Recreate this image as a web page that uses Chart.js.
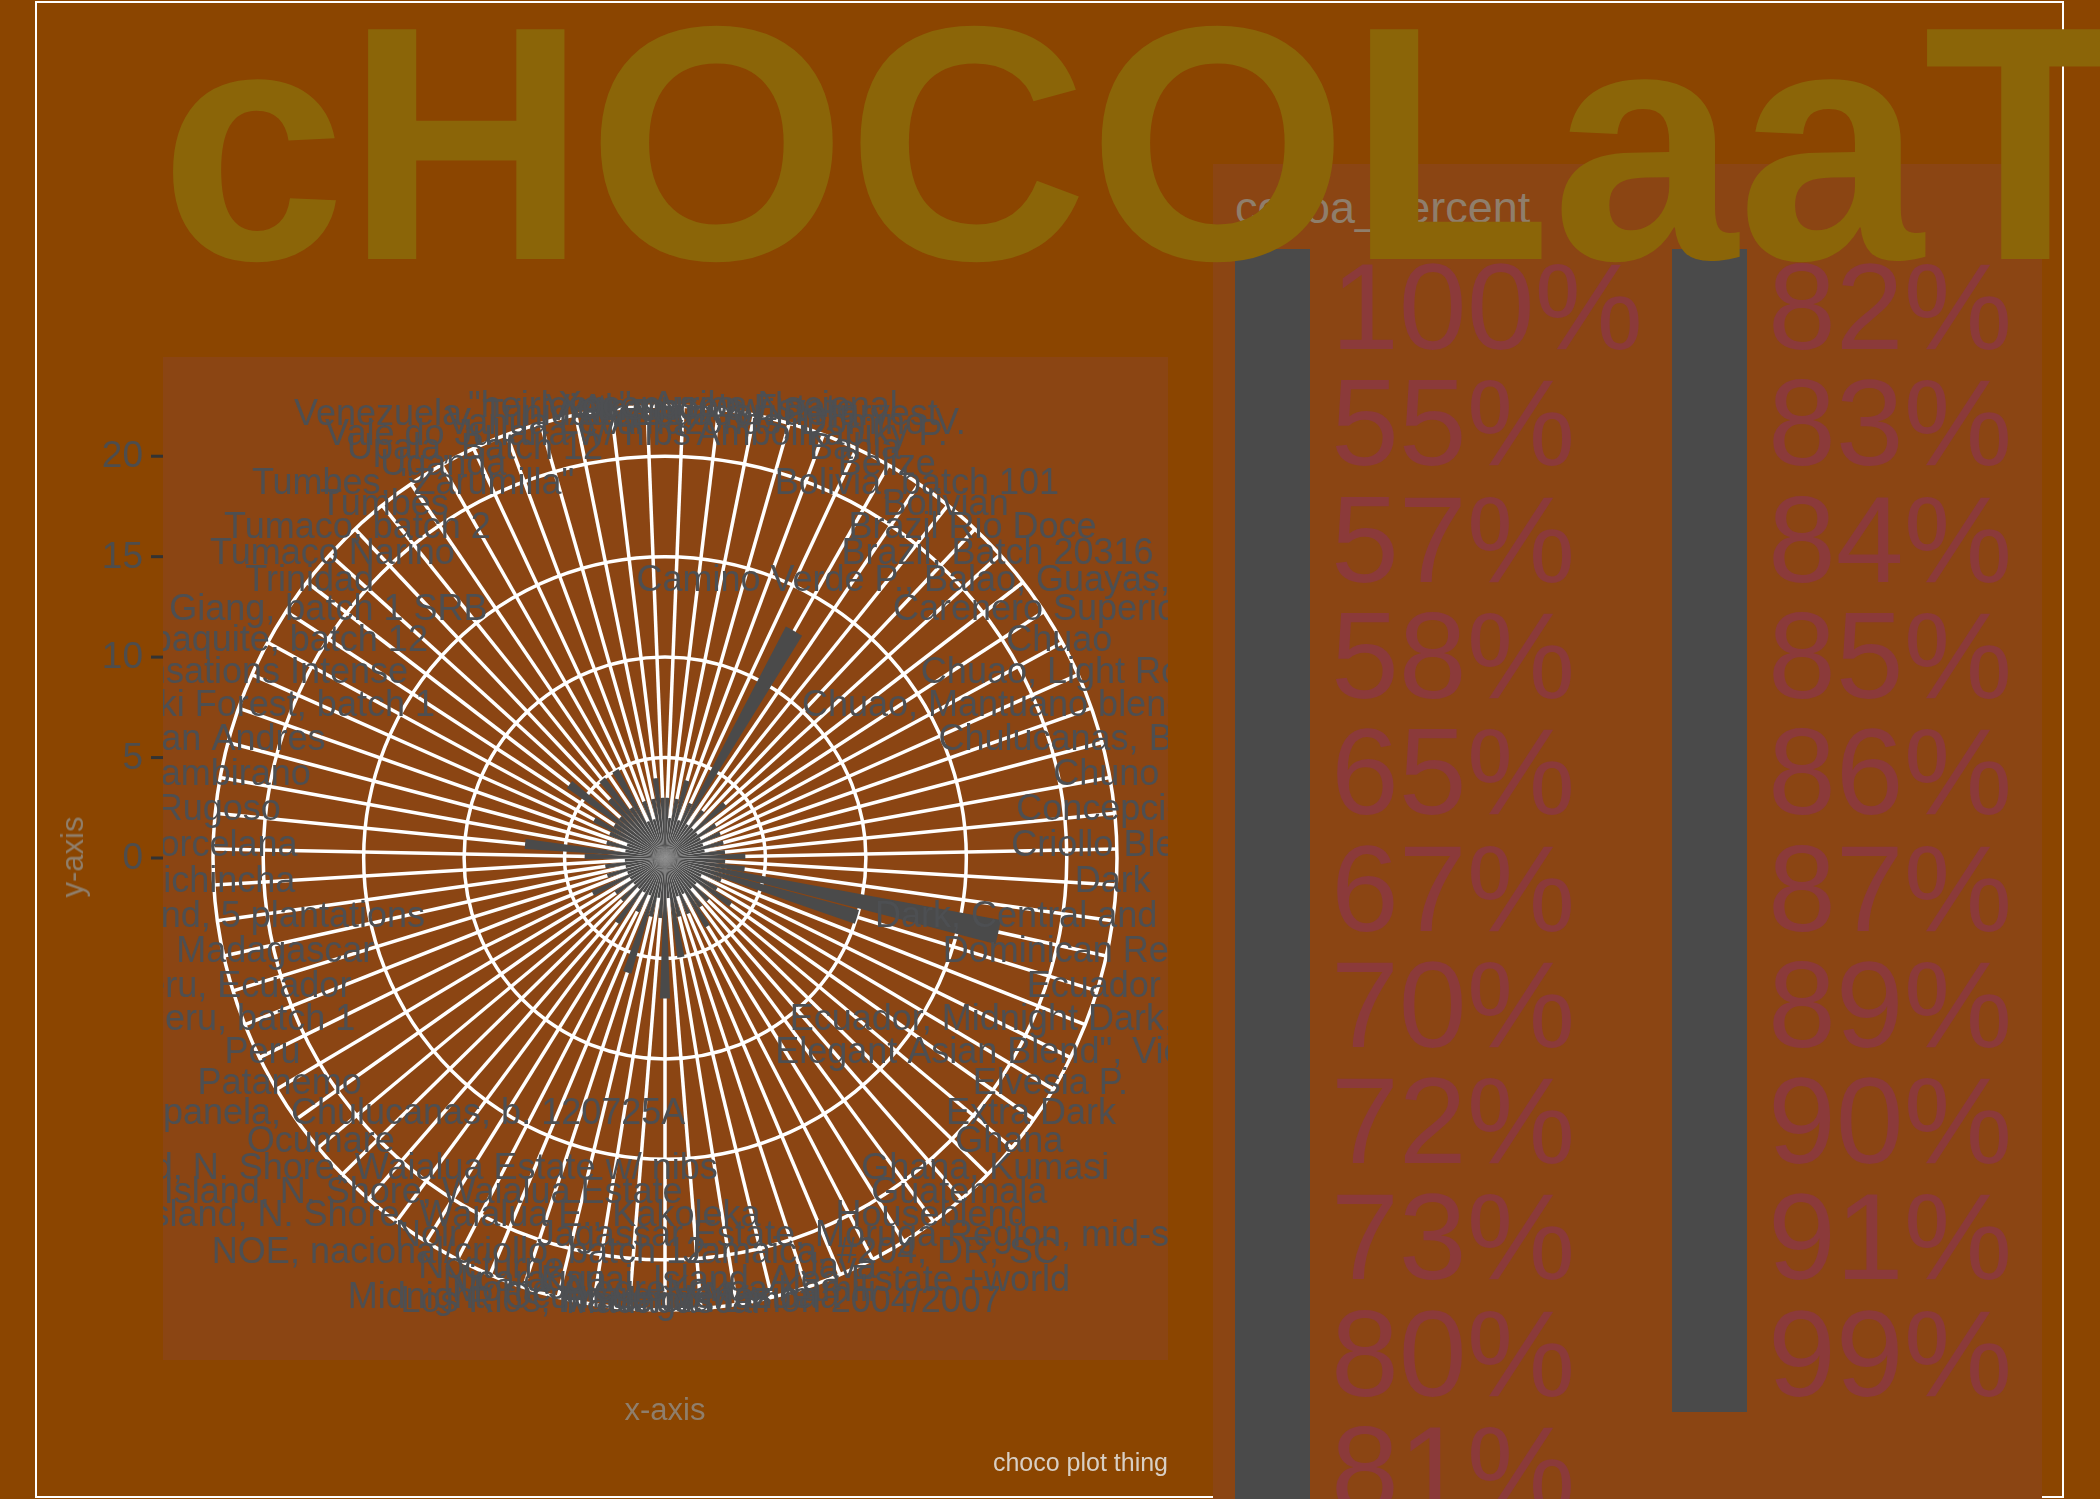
<!DOCTYPE html>
<html>
<head>
<meta charset="utf-8">
<script src="https://cdn.jsdelivr.net/npm/chart.js@4.4.1/dist/chart.umd.min.js"></script>
<style>
html,body{margin:0;padding:0;}
body{width:2100px;height:1499px;background:#8B4500;position:relative;overflow:hidden;font-family:"Liberation Sans",Arial,Helvetica,sans-serif;}
#frame{position:absolute;left:35px;top:1px;width:2029px;height:1497px;border:2px solid #fff;box-sizing:border-box;}
#c{position:absolute;left:0;top:0;}
.axt{position:absolute;color:#8F7E6B;font-size:31px;white-space:nowrap;}
#legend{position:absolute;left:1213px;top:164px;width:829px;height:1400px;background:#8B4513;}
#ltitle{position:absolute;left:22px;top:18px;font-size:45px;color:#8F7E6B;white-space:nowrap;}
.key{position:absolute;width:75px;background:#4A4A4A;}
.lab{position:absolute;font-size:122px;color:#8B3A3A;white-space:nowrap;line-height:116px;}
#title{position:absolute;left:160px;top:-23px;font-size:334px;font-weight:bold;color:#8B6508;line-height:1;white-space:nowrap;z-index:10;}
</style>
</head>
<body>
<div id="frame"></div>
<canvas id="c" width="2100" height="1499"></canvas>
<div class="axt" style="left:73px;top:857px;transform:translate(-50%,-50%) rotate(-90deg);">y-axis</div>
<div class="axt" style="left:665px;top:1410px;transform:translate(-50%,-50%);">x-axis</div>
<div class="axt" style="left:1168px;top:1462px;transform:translate(-100%,-50%);font-size:25px;color:#D8CFC4;">choco plot thing</div>
<div id="legend"><div id="ltitle">cocoa_percent</div></div>
<div id="title">cHOCOLaaT</div>
<script>
// ---------- data ----------
const origins = [
 '"heirloom", Arriba Nacional', "Akesson's Estate", "Alto Beni, Wild Harvest", "Amazonas, Domino V.",
 "Ambolikapiky P.", "Bahia", "Belize", "Bolivia, batch 101", "Bolivian", "Brazil Rio Doce",
 "Brazil, Batch 20316", "Camino Verde P., Balao, Guayas, Ecuador 2014", "Carenero Superior", "Chuao",
 "Chuao, Light Roast", "Chuao, Mantuano blend, Venezuela", "Chulucanas, Blanco", "Chuno", "Concepcion",
 "Criollo Blend", "Dark", "Dark, Central and S. America", "Dominican Republic", "Ecuador",
 "Ecuador, Midnight Dark, Esmeraldas", "Elegant Asian Blend\", Vietnam, Java", "Elvesia P.", "Extra Dark",
 "Ghana", "Ghana, Kumasi", "Guatemala", "Houseblend", "Jagassar Estate, Moruga Region, mid-season",
 "Jamaica, #204, DR, SC", "Java", "Kauai, Island, Alea Estate +world", "Kokoa Kamili", "La Masica",
 "Los Rios, Hacienda Limon 2004/2007", "Madagascar", "Maranon", "Midnight, Ocumare, Venezuela",
 "Monte Alegre", "Nicaragua", "Nocturne", "NOE, nacional/criollo, batch 12", "Noir",
 "O'ahu Island, N. Shore, Waialua E., Kakoleka", "O'ahu Island, N. Shore, Waialua Estate",
 "O'ahu Island, N. Shore, Waialua Estate w/ nibs", "Ocumare", "Organic, Piura, panela, Chulucanas, b. 120725A",
 "Patanemo", "Peru", "Peru, batch 1", "Peru, Ecuador", "Peru, Madagascar",
 "Peru, blend, 5 plantations", "Pichincha", "Porcelana", "Rugoso",
 "Sambirano", "San Andres", "Semuliki Forest, batch 1", "Sensations Intense", "Tabaquite, batch 12",
 "Tien Giang, batch 1 SRB", "Trinidad", "Tumaco Narino", "Tumaco, batch 2", "Tumbes",
 "Tumbes, \"Zarumilla\"", "Uganda", "Upala, Batch 12", "Vale do Juliana w/ nibs", "Vanua Levu",
 "Venezuela, Trinidad, Ecuador, Peru", "Vietnam", "Xoconusco"
];
const reviewCounts = [
 3, 2, 3, 4, 2, 3, 13, 2, 3, 2,
 4, 2, 3, 2, 3, 2, 3, 2, 3, 4,
 3, 4, 17, 10, 3, 2, 3, 4, 2, 3,
 2, 3, 4, 2, 3, 2, 3, 5, 2, 7,
 3, 2, 3, 6, 2, 3, 2, 4, 2, 3,
 2, 3, 2, 4, 2, 3, 2, 3, 2, 4,
 7, 2, 3, 2, 3, 4, 3, 6, 3, 4,
 5, 3, 5, 2, 3, 2, 3, 4, 3
];
const rBreaks = [0, 5, 10, 15, 20];
const rOuter = 22.5;
const cocoaLevels = ["100%","55%","57%","58%","65%","67%","70%","72%","73%","80%","81%",
                     "82%","83%","84%","85%","86%","87%","89%","90%","91%","99%"];

// ---------- layout ----------
const PANEL = {x:163, y:357, w:1005, h:1003};
const N = origins.length;
const stepDeg = 360 / N;

// legend
(function(){
  const lg = document.getElementById('legend');
  const rowH = 116.3, top0 = 85, perCol = 11;
  cocoaLevels.forEach((lv, i) => {
    const col = Math.floor(i / perCol), row = i % perCol;
    const kx = col === 0 ? 22 : 459, lx = col === 0 ? 118 : 555;
    const k = document.createElement('div');
    k.className = 'key';
    k.style.left = kx + 'px'; k.style.top = (top0 + row * rowH) + 'px'; k.style.height = (rowH + 0.5) + 'px';
    lg.appendChild(k);
    const t = document.createElement('div');
    t.className = 'lab'; t.textContent = lv;
    t.style.left = lx + 'px'; t.style.top = (top0 + row * rowH) + 'px';
    lg.appendChild(t);
  });
})();

// ---------- chart ----------
const dataVals = [], dataLabels = [];
origins.forEach((o, i) => { dataVals.push(reviewCounts[i]); dataLabels.push(o); dataVals.push(0); dataLabels.push(''); });

const ggPolar = {
  id: 'ggPolar',
  beforeDatasetsDraw(chart) {
    const ctx = chart.ctx, s = chart.scales.r;
    const cx = s.xCenter, cy = s.yCenter;
    ctx.save();
    ctx.fillStyle = '#8B4513';
    ctx.fillRect(PANEL.x, PANEL.y, PANEL.w, PANEL.h);
    ctx.strokeStyle = '#FFFFFF';
    ctx.lineWidth = 3.5;
    const rMax = s.getDistanceFromCenterForValue(rOuter);
    for (let i = 0; i < N; i++) {
      const a = -Math.PI / 2 + (i + 0.5) * 2 * Math.PI / N;
      ctx.beginPath();
      ctx.moveTo(cx, cy);
      ctx.lineTo(cx + rMax * Math.cos(a), cy + rMax * Math.sin(a));
      ctx.stroke();
    }
    rBreaks.concat([rOuter]).forEach(v => {
      const r = s.getDistanceFromCenterForValue(v);
      if (r <= 0) return;
      ctx.beginPath();
      ctx.arc(cx, cy, r, 0, 2 * Math.PI);
      ctx.stroke();
    });
    ctx.restore();
  },
  afterDatasetsDraw(chart) {
    const ctx = chart.ctx, s = chart.scales.r;
    const cx = s.xCenter, cy = s.yCenter;
    const R = s.getDistanceFromCenterForValue(rOuter) - 3.5;
    ctx.save();
    ctx.beginPath();
    ctx.rect(PANEL.x, PANEL.y, PANEL.w, PANEL.h);
    ctx.clip();
    ctx.fillStyle = '#4D4F52';
    ctx.font = '36px "Liberation Sans", Arial, sans-serif';
    ctx.textAlign = 'center';
    ctx.textBaseline = 'middle';
    for (let i = 0; i < N; i++) {
      const a = (i + 0.5) * 2 * Math.PI / N;
      ctx.fillText(origins[i], cx + R * Math.sin(a), cy - 3 - R * Math.cos(a));
    }
    ctx.restore();
    // r axis on the left
    ctx.save();
    ctx.fillStyle = '#4D4D4D';
    ctx.strokeStyle = '#333333';
    ctx.lineWidth = 3;
    ctx.font = '37px "Liberation Sans", Arial, sans-serif';
    ctx.textAlign = 'right';
    ctx.textBaseline = 'middle';
    rBreaks.forEach(v => {
      const y = cy - s.getDistanceFromCenterForValue(v);
      ctx.beginPath();
      ctx.moveTo(PANEL.x - 12, y);
      ctx.lineTo(PANEL.x, y);
      ctx.stroke();
      ctx.fillText(String(v), PANEL.x - 20, y + 1);
    });
    ctx.restore();
  }
};

const cnv = document.getElementById('c');
new Chart(cnv, {
  type: 'polarArea',
  data: {
    labels: dataLabels,
    datasets: [{
      data: dataVals,
      backgroundColor: '#4A4A4A',
      borderWidth: 0,
      angle: (c) => (c.dataIndex % 2 === 0 ? 0.9 * stepDeg : 0.1 * stepDeg)
    }]
  },
  options: {
    responsive: false,
    animation: false,
    devicePixelRatio: 1,
    layout: {padding: {left: 213, top: 406, right: 2100 - 213 - 904, bottom: 1499 - 406 - 904}},
    plugins: {legend: {display: false}, tooltip: {enabled: false}},
    scales: {
      r: {
        min: 0, max: rOuter,
        startAngle: 0.05 * stepDeg,
        ticks: {display: false},
        grid: {display: false},
        angleLines: {display: false},
        pointLabels: {display: false}
      }
    }
  },
  plugins: [ggPolar]
});
</script>
</body>
</html>
